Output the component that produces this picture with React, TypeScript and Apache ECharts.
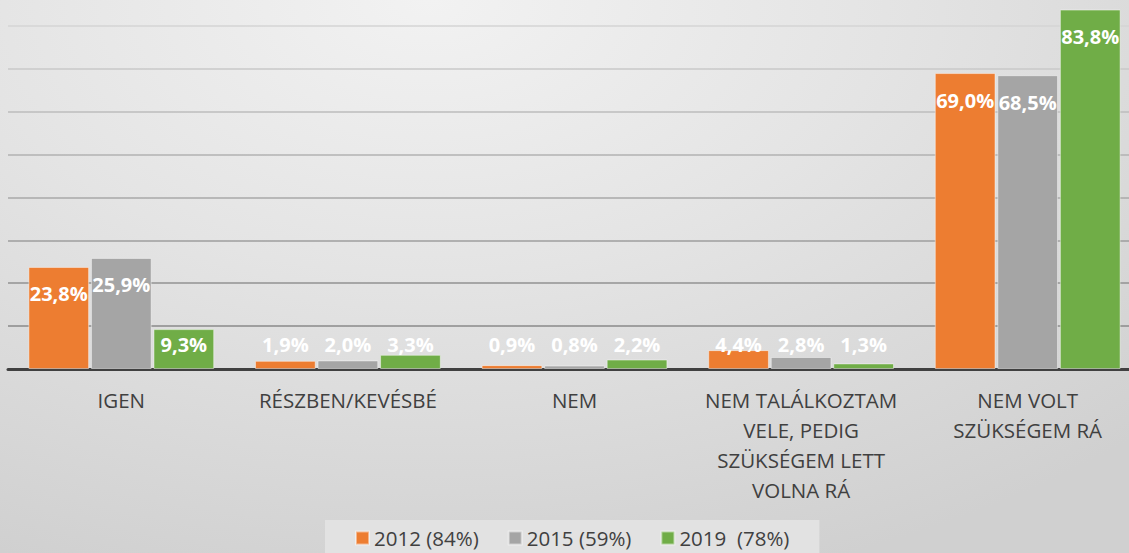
import React, { useEffect, useRef } from "react";
import * as echarts from "echarts";

const categories = [
  "IGEN",
  "RÉSZBEN/KEVÉSBÉ",
  "NEM",
  "NEM TALÁLKOZTAM\nVELE, PEDIG\nSZÜKSÉGEM LETT\nVOLNA RÁ",
  "NEM VOLT\nSZÜKSÉGEM RÁ",
];
const seriesNames = ["2012 (84%)", "2015 (59%)", "2019  (78%)"];
const values2012 = [23.8, 1.9, 0.9, 4.4, 69.0];
const values2015 = [25.9, 2.0, 0.8, 2.8, 68.5];
const values2019 = [9.3, 3.3, 2.2, 1.3, 83.8];
const seriesColors = ["#ED7D31", "#A5A5A5", "#70AD47"];
const gridColors = [
  "#888888", "#8a8a8a", "#929292", "#9e9e9e", "#a8a8a8",
  "#b2b2b2", "#bcbcbc", "#c8c8c8", "#d4d4d4", "#d8d8d8",
];

const fmt = (v: number) => v.toFixed(1).replace(".", ",") + "%";

export default function App() {
  const ref = useRef<HTMLDivElement>(null);
  useEffect(() => {
    if (!ref.current) return;
    const chart = echarts.init(ref.current, null, { renderer: "svg" });
    const all = [values2012, values2015, values2019];
    chart.setOption({
      animation: false,
      backgroundColor: "transparent",
      grid: { left: 8, right: 0, top: 0, bottom: 184, containLabel: false },
      legend: {
        data: seriesNames,
        left: 325,
        top: 537,
        padding: [7, 30, 10, 30],
        backgroundColor: "#e2e2e2",
        itemWidth: 13,
        itemHeight: 13,
        itemGap: 29,
        icon: "rect",
        textStyle: {
          color: "#404040",
          fontSize: 20.5,
          lineHeight: 22,
          fontFamily: "Open Sans",
        },
      },
      xAxis: {
        type: "category",
        data: categories,
        axisTick: { show: false },
        axisLine: { lineStyle: { color: "#404040", width: 3 } },
        axisLabel: {
          color: "#404040",
          fontSize: 20.5,
          fontFamily: "Open Sans",
          lineHeight: 30,
          margin: 16,
          interval: 0,
          align: "center",
        },
      },
      yAxis: {
        type: "value",
        min: 0,
        max: 90,
        interval: 10,
        axisLabel: { show: false },
        axisLine: { show: false },
        axisTick: { show: false },
        splitLine: { lineStyle: { color: gridColors, width: 1.5 } },
      },
      series: all.map((vals, i) => ({
        type: "bar",
        name: seriesNames[i],
        barGap: "3%",
        barCategoryGap: "18%",
        itemStyle: {
          color: seriesColors[i],
          borderColor: "rgba(255,255,255,0.45)",
          borderWidth: 1,
        },
        label: {
          show: true,
          color: "#ffffff",
          fontSize: 20,
          fontWeight: "bold",
          fontFamily: "Open Sans",
          formatter: (p: any) => fmt(p.value),
        },
        data: vals.map((v) => ({
          value: v,
          label:
            v >= 15
              ? { position: "insideTop", distance: 17 }
              : { position: "insideBottom", distance: 15 },
        })),
      })),
    });
    return () => chart.dispose();
  }, []);
  return (
    <div
      style={{
        position: "absolute",
        left: 0,
        top: 0,
        width: 1129,
        height: 553,
        overflow: "hidden",
        background:
          "radial-gradient(ellipse 90% 110% at 38% 0%, #f2f2f2 0%, #e4e4e4 45%, #d0d0d0 100%)",
      }}
    >
      <div
        ref={ref}
        style={{ position: "absolute", left: 0, top: -17, width: 1141, height: 570 }}
      />
    </div>
  );
}
